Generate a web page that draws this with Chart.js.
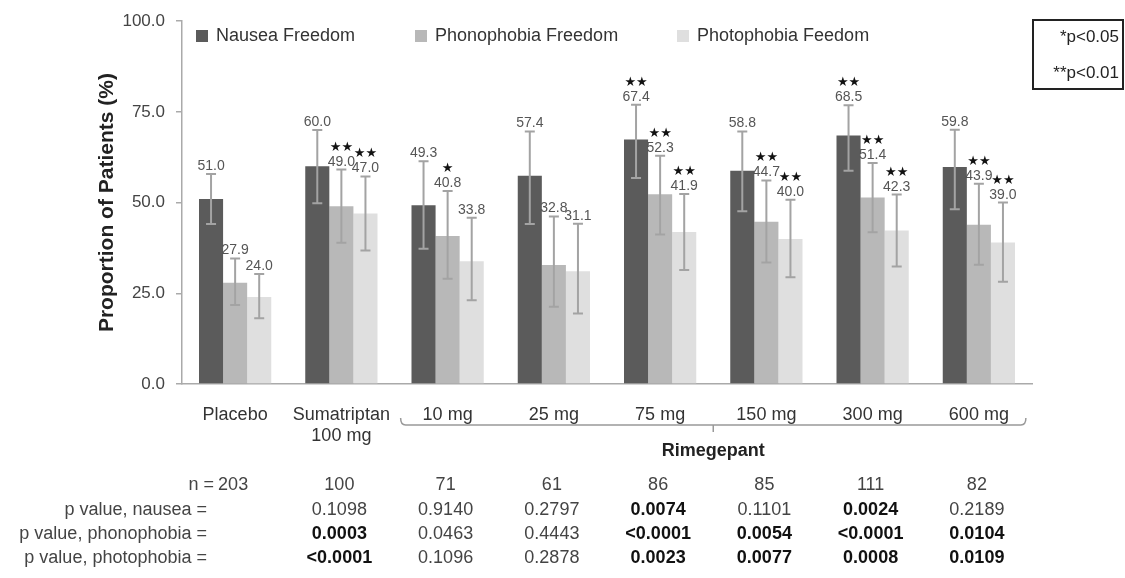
<!DOCTYPE html>
<html>
<head>
<meta charset="utf-8">
<script src="https://cdn.jsdelivr.net/npm/chart.js@4"></script>
<style>
	html, body { margin: 0; padding: 0; background: #fff; }
	#wrap { width: 1125px; height: 578px; position: relative; }
</style>
</head>
<body>
<div id="wrap"><canvas id="grafico"></canvas></div>
<script>
// categorie e valori
const categories = ["Placebo", ["Sumatriptan", "100 mg"], "10 mg", "25 mg", "75 mg", "150 mg", "300 mg", "600 mg"];
const seriesNames = ["Nausea Freedom", "Phonophobia Freedom", "Photophobia Feedom"];

const nausea = [51.0, 60.0, 49.3, 57.4, 67.4, 58.8, 68.5, 59.8];
const phono = [27.9, 49.0, 40.8, 32.8, 52.3, 44.7, 51.4, 43.9];
const photo = [24.0, 47.0, 33.8, 31.1, 41.9, 40.0, 42.3, 39.0];

// intervalli (barre d'errore)
const nauseaLo = [44.1, 49.8, 37.3, 44.1, 56.8, 47.6, 58.8, 48.2];
const nauseaHi = [57.9, 70.0, 61.4, 69.6, 77.0, 69.6, 76.8, 70.1];
const phonoLo = [21.8, 38.9, 29.0, 21.3, 41.2, 33.5, 41.8, 32.9];
const phonoHi = [34.6, 59.1, 53.2, 46.2, 62.9, 56.1, 60.9, 55.2];
const photoLo = [18.1, 36.8, 23.1, 19.4, 31.4, 29.4, 32.4, 28.2];
const photoHi = [30.3, 57.2, 45.8, 44.2, 52.4, 50.8, 52.2, 50.0];

// significatività
const sigNausea = ["", "", "", "", "**", "", "**", ""];
const sigPhono = ["", "**", "*", "", "**", "**", "**", "**"];
const sigPhoto = ["", "**", "", "", "**", "**", "**", "**"];

const yTicks = [0, 25, 50, 75, 100];

// tabella sotto il grafico
const nPazienti = ["203", "100", "71", "61", "86", "85", "111", "82"];
const pNausea = ["", "0.1098", "0.9140", "0.2797", "0.0074", "0.1101", "0.0024", "0.2189"];
const pPhono = ["", "0.0003", "0.0463", "0.4443", "<0.0001", "0.0054", "<0.0001", "0.0104"];
const pPhoto = ["", "<0.0001", "0.1096", "0.2878", "0.0023", "0.0077", "0.0008", "0.0109"];
const boldNausea = [false, false, false, false, true, false, true, false];
const boldPhono = [false, true, false, false, true, true, true, true];
const boldPhoto = [false, true, false, false, true, true, true, true];

const FONT = '"Liberation Sans", Arial, sans-serif';
const colori = ["#5b5b5b", "#b8b8b8", "#dfdfdf"];

const errori = [[nauseaLo, nauseaHi, sigNausea], [phonoLo, phonoHi, sigPhono], [photoLo, photoHi, sigPhoto]];

// barre d'errore, valori e stelle
const errorBarsPlugin = {
	id: "errorBars",
	afterDatasetsDraw(chart) {
		let ctx = chart.ctx;
		let y = chart.scales.y;
		chart.data.datasets.forEach((ds, di) => {
			let meta = chart.getDatasetMeta(di);
			let [lo, hi, sig] = errori[di];
			meta.data.forEach((bar, i) => {
				let x = bar.x;
				let yLo = y.getPixelForValue(lo[i]);
				let yHi = y.getPixelForValue(hi[i]);
				ctx.save();
				ctx.strokeStyle = "#a3a3a3";
				ctx.lineWidth = 2;
				ctx.beginPath();
				ctx.moveTo(x, yLo); ctx.lineTo(x, yHi);
				ctx.moveTo(x - 5, yLo); ctx.lineTo(x + 5, yLo);
				ctx.moveTo(x - 5, yHi); ctx.lineTo(x + 5, yHi);
				ctx.stroke();

				ctx.fillStyle = "#555";
				ctx.font = `14px ${FONT}`;
				ctx.textAlign = "center";
				ctx.textBaseline = "alphabetic";
				ctx.fillText(ds.data[i].toFixed(1), x, yHi - 4);

				if (sig[i]) {
					ctx.fillStyle = "#111";
					ctx.font = `13px "DejaVu Sans", sans-serif`;
					ctx.fillText(sig[i].replace(/\*/g, "★"), x, yHi - 19);
				}
				ctx.restore();
			});
		});
	}
};

// legenda, riquadro p, parentesi Rimegepant e tabella
const extraPlugin = {
	id: "extra",
	afterDraw(chart) {
		let ctx = chart.ctx;
		let xs = chart.scales.x;
		ctx.save();

		// Legenda
		let legX = [196, 415, 677];
		ctx.font = `18px ${FONT}`;
		ctx.textBaseline = "middle";
		ctx.textAlign = "left";
		seriesNames.forEach((nome, i) => {
			ctx.fillStyle = colori[i];
			ctx.fillRect(legX[i], 30, 12, 12);
			ctx.fillStyle = "#333";
			ctx.fillText(nome, legX[i] + 20, 36);
		});

		// Riquadro significatività
		ctx.strokeStyle = "#222";
		ctx.lineWidth = 2;
		ctx.strokeRect(1033, 20, 90, 69);
		ctx.fillStyle = "#222";
		ctx.font = `17px ${FONT}`;
		ctx.textAlign = "right";
		ctx.fillText("*p<0.05", 1119, 37);
		ctx.fillText("**p<0.01", 1119, 73);

		// Parentesi sotto le dosi di Rimegepant
		let left = xs.getPixelForValue(2) - 47;
		let right = xs.getPixelForValue(7) + 47;
		let mid = (left + right) / 2;
		ctx.strokeStyle = "#999";
		ctx.lineWidth = 1.5;
		ctx.beginPath();
		ctx.moveTo(left, 418);
		ctx.quadraticCurveTo(left, 425, left + 5, 425);
		ctx.lineTo(right - 5, 425);
		ctx.quadraticCurveTo(right, 425, right, 418);
		ctx.moveTo(mid, 425);
		ctx.lineTo(mid, 432);
		ctx.stroke();
		ctx.fillStyle = "#222";
		ctx.font = `bold 18px ${FONT}`;
		ctx.textAlign = "center";
		ctx.fillText("Rimegepant", mid, 451);

		// Tabella
		let righe = [
			["n =", nPazienti, null, 485, 214],
			["p value, nausea =", pNausea, boldNausea, 510, 207],
			["p value, phonophobia =", pPhono, boldPhono, 534, 207],
			["p value, photophobia =", pPhoto, boldPhoto, 558, 207],
		];
		righe.forEach(([etichetta, valori, grassetto, yy, xEt]) => {
			ctx.textAlign = "right";
			ctx.font = `18px ${FONT}`;
			ctx.fillStyle = "#444";
			ctx.fillText(etichetta, xEt, yy);
			ctx.textAlign = "center";
			valori.forEach((v, i) => {
				let b = grassetto && grassetto[i];
				ctx.font = `${b ? "bold " : ""}18px ${FONT}`;
				ctx.fillStyle = b ? "#111" : "#444";
				ctx.fillText(v, xs.getPixelForValue(i) - 2, yy);
			});
		});
		ctx.restore();
	}
};

new Chart(document.getElementById("grafico"), {
	type: "bar",
	data: {
		labels: categories,
		datasets: [
			{ label: seriesNames[0], data: nausea, backgroundColor: colori[0] },
			{ label: seriesNames[1], data: phono, backgroundColor: colori[1] },
			{ label: seriesNames[2], data: photo, backgroundColor: colori[2] },
		]
	},
	options: {
		responsive: true,
		maintainAspectRatio: false,
		animation: false,
		devicePixelRatio: 1,
		layout: { padding: { top: 19, right: 93, left: 0, bottom: 0 } },
		datasets: { bar: { categoryPercentage: 0.68, barPercentage: 1.0 } },
		plugins: {
			legend: { display: false },
			tooltip: { enabled: false },
		},
		scales: {
			x: {
				grid: { display: false },
				border: { display: true, color: "#aaa", width: 1.5 },
				ticks: {
					color: "#333",
					font: { size: 18, family: FONT },
					padding: 12,
					maxRotation: 0,
					autoSkip: false,
				},
				afterFit(scale) { scale.height = 194; },
			},
			y: {
				min: 0,
				max: 100,
				afterBuildTicks(scale) { scale.ticks = yTicks.map(v => ({ value: v })); },
				grid: { drawOnChartArea: false, tickLength: 6, color: "#aaa", lineWidth: 1.5 },
				border: { display: true, color: "#aaa", width: 1.5 },
				ticks: {
					color: "#444",
					font: { size: 17, family: FONT },
					padding: 11,
					callback: v => v.toFixed(1),
				},
				title: {
					display: true,
					text: "Proportion of Patients (%)",
					color: "#222",
					font: { size: 21, weight: "bold", family: FONT },
					padding: { top: 95, bottom: 0 },
				},
				afterFit(scale) { scale.width = 182; },
			}
		}
	},
	plugins: [errorBarsPlugin, extraPlugin]
});
</script>
</body>
</html>
